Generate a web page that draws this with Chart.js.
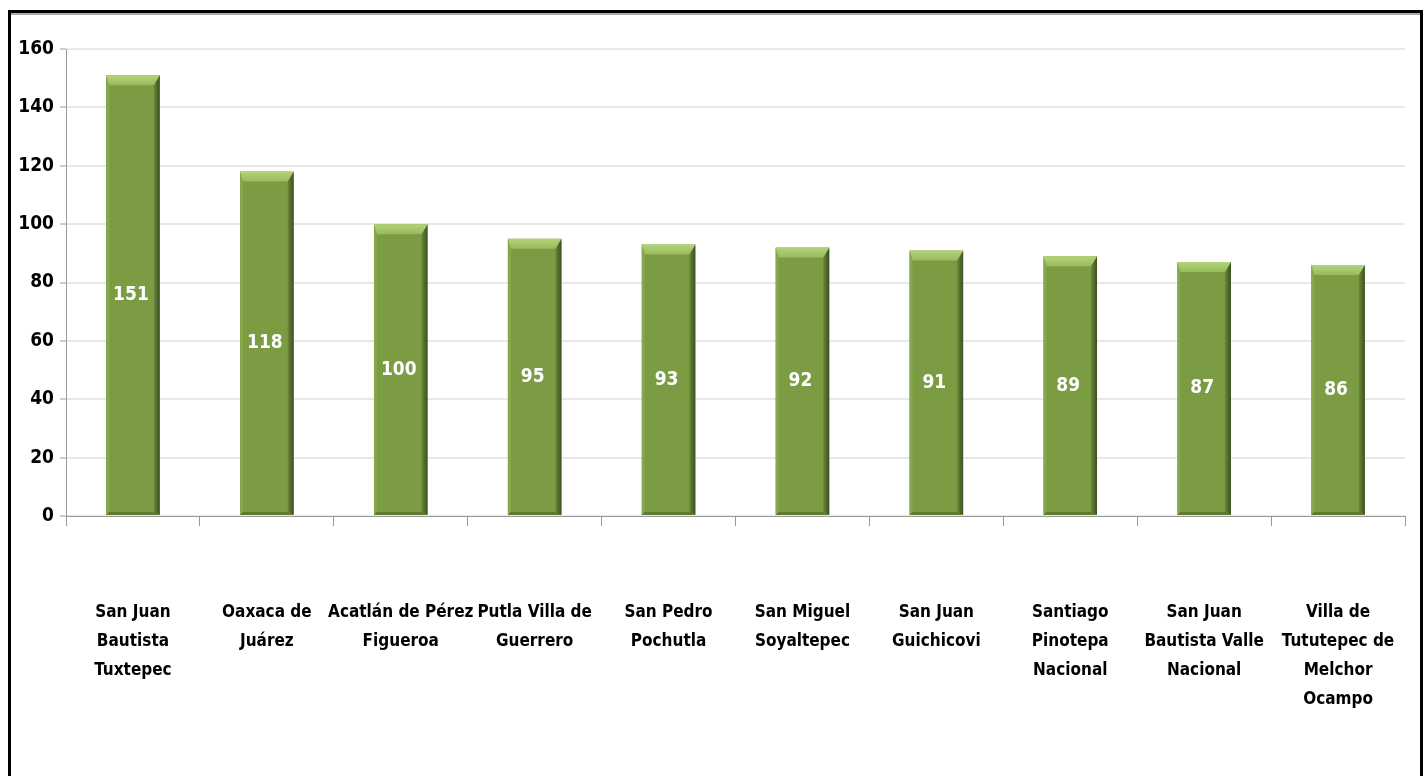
<!DOCTYPE html>
<html>
<head>
<meta charset="utf-8">
<script src="https://cdn.jsdelivr.net/npm/chart.js@4.4.1/dist/chart.umd.min.js"></script>
<style>
    html, body { margin: 0; padding: 0; background: #fff; overflow: hidden; }
    .frame {
        position: absolute; left: 8px; top: 10px;
        width: 1409px; height: 780px;
        border: 3px solid #000;
        box-shadow: inset 0 2px 0 #aaa;
    }
    .chart-box { position: absolute; left: 0; top: 0; width: 1409px; height: 763px; }
</style>
</head>
<body>
<div class="frame">
    <div class="chart-box"><canvas id="chart"></canvas></div>
</div>
<script>

const municipios = [
    [ 'San Juan', 'Bautista', 'Tuxtepec' ],
    [ 'Oaxaca de', 'Juárez' ],
    [ 'Acatlán de Pérez', 'Figueroa' ],
    [ 'Putla Villa de', 'Guerrero' ],
    [ 'San Pedro', 'Pochutla' ],
    [ 'San Miguel', 'Soyaltepec' ],
    [ 'San Juan', 'Guichicovi' ],
    [ 'Santiago', 'Pinotepa', 'Nacional' ],
    [ 'San Juan', 'Bautista Valle', 'Nacional' ],
    [ 'Villa de', 'Tututepec de', 'Melchor', 'Ocampo' ]
];
const valores = [ 151, 118, 100, 95, 93, 92, 91, 89, 87, 86 ];
const yMin = 0, yMax = 160, yStep = 20;

const FONT = "'Liberation Sans Narrow', 'DejaVu Sans Condensed', 'Arial Narrow', sans-serif";

// bevel look of the bars (light top edge, dark right side)
const bevelPlugin = {
    id: 'bevel',
    afterDatasetsDraw ( chart ) {
        const ctx = chart.ctx;
        chart.getDatasetMeta( 0 ).data.forEach( bar => {
            const w = bar.width, l = bar.x - w / 2, r = bar.x + w / 2, t = bar.y, b = bar.base;
            const bev = 10;
            ctx.save();
            // right dark side
            let g = ctx.createLinearGradient( r - 6, 0, r, 0 );
            g.addColorStop( 0, '#6a883a' );
            g.addColorStop( 1, '#3c5020' );
            ctx.fillStyle = g;
            ctx.beginPath();
            ctx.moveTo( r - 6, t + bev ); ctx.lineTo( r, t ); ctx.lineTo( r, b ); ctx.lineTo( r - 6, b - 3 );
            ctx.closePath(); ctx.fill();
            // left light edge
            ctx.fillStyle = '#86a74c';
            ctx.beginPath();
            ctx.moveTo( l, t ); ctx.lineTo( l + 3, t + bev ); ctx.lineTo( l + 3, b - 3 ); ctx.lineTo( l, b );
            ctx.closePath(); ctx.fill();
            // top bevel
            g = ctx.createLinearGradient( 0, t, 0, t + bev );
            g.addColorStop( 0, '#b4d47a' );
            g.addColorStop( 1, '#98ba5c' );
            ctx.fillStyle = g;
            ctx.beginPath();
            ctx.moveTo( l, t ); ctx.lineTo( r, t ); ctx.lineTo( r - 6, t + bev ); ctx.lineTo( l + 3, t + bev );
            ctx.closePath(); ctx.fill();
            // bottom edge
            ctx.fillStyle = '#5d7a30';
            ctx.beginPath();
            ctx.moveTo( l, b ); ctx.lineTo( r, b ); ctx.lineTo( r - 6, b - 3 ); ctx.lineTo( l + 3, b - 3 );
            ctx.closePath(); ctx.fill();
            ctx.restore();
        } );
    }
};

// white value in the middle of each bar
const valueLabelPlugin = {
    id: 'valueLabels',
    afterDatasetsDraw ( chart ) {
        const ctx = chart.ctx;
        const ds = chart.data.datasets[ 0 ];
        ctx.save();
        ctx.font = 'bold 19px ' + FONT;
        ctx.fillStyle = '#fff';
        ctx.textAlign = 'center';
        ctx.textBaseline = 'middle';
        chart.getDatasetMeta( 0 ).data.forEach( ( bar, i ) => {
            ctx.fillText( String( ds.data[ i ] ), bar.x - 2, ( bar.y + bar.base ) / 2 );
        } );
        ctx.restore();
    }
};

document.addEventListener( 'DOMContentLoaded', function () {

    Chart.defaults.responsive = true;
    Chart.defaults.maintainAspectRatio = false;
    Chart.defaults.animation = false;
    Chart.defaults.font.family = FONT;
    Chart.defaults.font.weight = 'bold';
    Chart.defaults.color = '#000';

    new Chart( document.getElementById( 'chart' ), {
        type: 'bar',
        data: {
            labels: municipios,
            datasets: [ {
                data: valores,
                backgroundColor: '#7c9c44',
                borderWidth: 0,
                barPercentage: 0.4,
                categoryPercentage: 1
            } ]
        },
        options: {
            layout: { padding: { top: 36, right: 15, bottom: 0, left: 0 } },
            plugins: {
                legend: { display: false },
                tooltip: { enabled: false }
            },
            scales: {
                x: {
                    grid: {
                        offset: true,
                        drawOnChartArea: false,
                        color: '#9a9a9a',
                        tickLength: 10
                    },
                    border: { color: '#9a9a9a', width: 1 },
                    ticks: {
                        maxRotation: 0,
                        autoSkip: false,
                        padding: 72,
                        font: { size: 17, weight: 'bold', lineHeight: '29px' }
                    },
                    afterFit: scale => {
                        scale.height = 260;
                        scale.paddingLeft = 0;
                        scale.paddingRight = 0;
                    }
                },
                y: {
                    min: yMin, max: yMax,
                    ticks: {
                        stepSize: yStep,
                        padding: 6,
                        font: { size: 19, weight: 'bold' }
                    },
                    grid: { color: '#e8e8e8', lineWidth: 2, tickLength: 6, tickColor: '#9a9a9a', tickWidth: 1 },
                    border: { color: '#9a9a9a', width: 1 },
                    afterFit: scale => {
                        scale.width = 55;
                        scale.paddingTop = 0;
                        scale.paddingBottom = 0;
                    }
                }
            }
        },
        plugins: [ bevelPlugin, valueLabelPlugin ]
    } );

} );
</script>
</body>
</html>
